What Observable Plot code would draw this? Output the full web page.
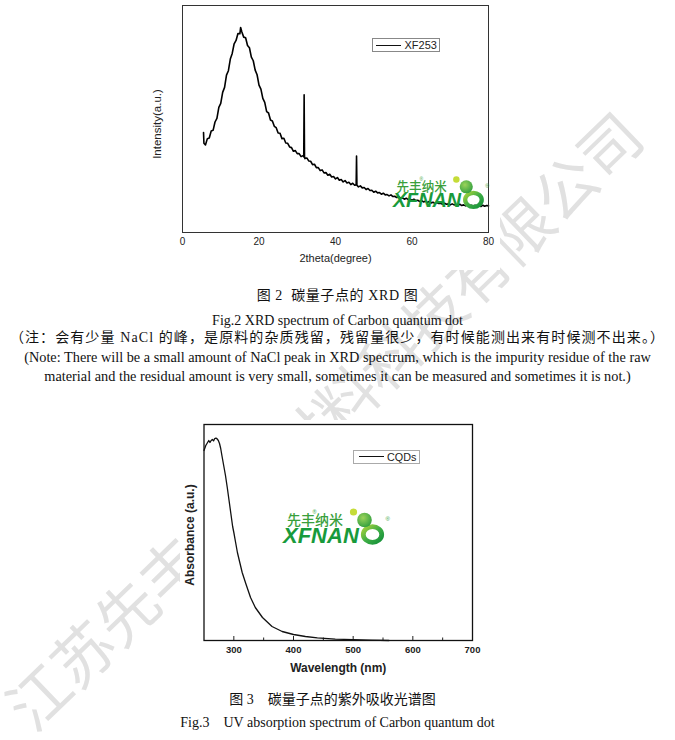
<!DOCTYPE html>
<html>
<head>
<meta charset="utf-8">
<script src="https://cdn.jsdelivr.net/npm/d3@7"></script>
<script src="https://cdn.jsdelivr.net/npm/@observablehq/plot@0.6"></script>
<style>
  body { margin: 0; background: #fff; }
  #page { position: relative; width: 675px; height: 740px; overflow: hidden; background: #fff; }
  .abs { position: absolute; }
  .cap { position: absolute; left: 0; width: 675px; text-align: center; font-family: "Liberation Serif", "Times New Roman", "Noto Sans CJK SC", serif; font-size: 14px; line-height: 20px; color: #111; white-space: pre; z-index: 3; }
  .wm { position: absolute; white-space: nowrap; font-family: "Noto Sans CJK SC", sans-serif; color: #e1e1e1; transform-origin: 50% 50%; z-index: 0; }
  .legend { position: absolute; background: #fff; box-sizing: border-box; font-family: "Liberation Sans", Arial, sans-serif; z-index: 4; }
  .legend .sw { position: absolute; }
  .legend .lt { position: absolute; white-space: nowrap; }
  .logo { position: absolute; z-index: 5; }
</style>
</head>
<body>
<div id="page"></div>
<script>
// ---------------- data ----------------
const xrdTicks = [0, 20, 40, 60, 80];
const xrdTheta = [
  5.5, 5.6, 6.0, 6.5, 7.0, 7.5, 8.0, 8.5, 9.0, 9.5, 10.0, 10.5, 11.0, 11.5, 12.0, 12.5, 13.0, 13.5, 14.0, 14.5,
  15.0, 15.2, 15.5, 16.0, 16.5, 17.0, 17.5, 18.0, 18.5, 19.0, 19.5, 20.0, 20.5, 21.0, 21.5, 22.0, 22.5, 23.0, 23.5, 24.0,
  24.5, 25.0, 25.5, 26.0, 26.5, 27.0, 27.5, 28.0, 28.5, 29.0, 29.5, 30.0, 30.5, 31.0, 31.5, 31.7, 31.8, 31.9, 32.0, 32.5,
  33.0, 33.5, 34.0, 34.5, 35.0, 35.5, 36.0, 36.5, 37.0, 37.5, 38.0, 38.5, 39.0, 39.5, 40.0, 40.5, 41.0, 41.5, 42.0, 42.5,
  43.0, 43.5, 44.0, 44.5, 45.0, 45.4, 45.5, 45.6, 46.0, 46.5, 47.0, 47.5, 48.0, 48.5, 49.0, 49.5, 50.0, 50.5, 51.0, 51.5,
  52.0, 52.5, 53.0, 53.5, 54.0, 54.5, 55.0, 55.5, 56.0, 56.5, 57.0, 57.5, 58.0, 58.5, 59.0, 59.5, 60.0, 60.5, 61.0, 61.5,
  62.0, 62.5, 63.0, 63.5, 64.0, 64.5, 65.0, 65.5, 66.0, 66.5, 67.0, 67.5, 68.0, 68.5, 69.0, 69.5, 70.0, 70.5, 71.0, 71.5,
  72.0, 72.5, 73.0, 73.5, 74.0, 74.5, 75.0, 75.5, 76.0, 76.5, 77.0, 77.5, 78.0, 78.5, 79.0, 79.5, 80.0
];
const xrdIntensity = [
  300, 268, 263, 282, 284, 305, 307, 332, 343, 376, 388, 421, 436, 473, 486, 521, 538, 567, 577, 598,
  597, 616, 603, 587, 585, 562, 555, 527, 516, 488, 474, 443, 431, 403, 391, 363, 359, 338, 335, 319,
  315, 299, 298, 282, 283, 269, 268, 257, 255, 244, 246, 237, 237, 228, 231, 227, 414, 228, 222, 224,
  215, 214, 204, 205, 195, 195, 186, 188, 179, 180, 172, 175, 167, 168, 161, 165, 157, 159, 152, 156,
  149, 151, 144, 148, 142, 143, 230, 142, 137, 140, 134, 135, 129, 132, 126, 127, 121, 124, 119, 120,
  115, 118, 113, 114, 110, 113, 108, 109, 105, 108, 103, 104, 100, 103, 99, 100, 97, 100, 96, 97,
  93, 96, 92, 94, 90, 93, 89, 91, 87, 90, 87, 88, 85, 88, 85, 86, 83, 86, 83, 84,
  81, 85, 81, 83, 80, 83, 80, 82, 79, 82, 79, 81, 78, 82, 79, 81, 80
];
const xrdSeries = "XF253";

const uvTicks = [300, 400, 500, 600, 700];
const uvMinorTicks = [350, 450, 550, 650];
const uvWavelength = [250, 253, 256, 258, 260, 262, 264, 266, 268, 270, 272, 274, 276, 278, 280, 283, 286, 289, 292, 295,
  298, 300, 303, 306, 310, 314, 320, 328, 336, 348, 364, 381, 400, 420, 440, 470, 500, 530, 560];
const uvAbsorbance = [0.95, 0.975, 0.99, 1.0, 0.99, 1.0, 1.005, 0.998, 1.01, 1.012, 1.008, 1.0, 0.985, 0.96, 0.925, 0.875, 0.825, 0.765, 0.70, 0.635,
  0.57, 0.54, 0.49, 0.44, 0.39, 0.34, 0.285, 0.215, 0.165, 0.115, 0.07, 0.045, 0.03, 0.02, 0.013, 0.007, 0.004, 0.002, 0.0];
const uvSeries = "CQDs";

const captions = {
  fig2cn: "图 2  碳量子点的 XRD 图",
  fig2en: "Fig.2 XRD spectrum of Carbon quantum dot",
  notecn: "（注：会有少量 NaCl 的峰，是原料的杂质残留，残留量很少，有时候能测出来有时候测不出来。）",
  noteen1: "(Note: There will be a small amount of NaCl peak in XRD spectrum, which is the impurity residue of the raw",
  noteen2: "material and the residual amount is very small, sometimes it can be measured and sometimes it is not.)",
  fig3cn: "图 3　碳量子点的紫外吸收光谱图",
  fig3en: "Fig.3    UV absorption spectrum of Carbon quantum dot"
};
const watermarkText = "江苏先丰纳米材料科技有限公司";
const logoCn = "先丰纳米";
const logoEn = "XFNAN";

// ---------------- page ----------------
const page = document.getElementById("page");

// watermark
const wm = document.createElement("div");
wm.className = "wm";
const wmSize = 61;
wm.style.fontSize = wmSize + "px";
wm.style.lineHeight = wmSize + "px";
wm.style.width = (wmSize * 14) + "px";
wm.style.left = (322 - wmSize * 7) + "px";
wm.style.top = (418 - wmSize / 2) + "px";
wm.style.transform = "rotate(-44deg)";
wm.textContent = watermarkText;
page.appendChild(wm);

// XRD chart
const xrdData = xrdTheta.map((t, i) => ({theta: t, intensity: xrdIntensity[i]}));
const xrd = Plot.plot({
  width: 370, height: 270,
  marginLeft: 52, marginRight: 12, marginTop: 5, marginBottom: 38,
  style: {fontFamily: "'Liberation Sans', Arial, sans-serif", fontSize: "10px", background: "white", color: "#222", overflow: "visible"},
  x: {domain: [0, 80], ticks: xrdTicks, tickSize: 0, tickPadding: 5.5, label: null, tickFormat: d => String(d)},
  y: {domain: [0, 682], axis: null},
  marks: [
    Plot.line(xrdData, {x: "theta", y: "intensity", stroke: "#000", strokeWidth: 1.6}),
    Plot.frame({stroke: "#333", strokeWidth: 1}),
    Plot.text(["2theta(degree)"], {text: d => d, frameAnchor: "bottom", lineAnchor: "middle", textAnchor: "middle", dy: 26, fontSize: 11, fill: "#222"}),
    Plot.text(["Intensity(a.u.)"], {text: d => d, frameAnchor: "left", lineAnchor: "middle", textAnchor: "middle", rotate: -90, dx: -25, dy: 5, fontSize: 11.5, fill: "#222"})
  ]
});
const xrdBox = document.createElement("div");
xrdBox.className = "abs";
xrdBox.style.cssText = "left:130px;top:0px;width:370px;height:270px;z-index:1;";
xrdBox.appendChild(xrd);
page.appendChild(xrdBox);

// UV chart
const uvData = uvWavelength.map((w, i) => ({wl: w, abs: uvAbsorbance[i]}));
const uv = Plot.plot({
  width: 305, height: 265,
  marginLeft: 23.5, marginRight: 13, marginTop: 4, marginBottom: 45,
  style: {fontFamily: "'Liberation Sans', Arial, sans-serif", fontSize: "9.5px", fontWeight: "bold", background: "white", color: "#222", overflow: "visible"},
  x: {domain: [250, 700], ticks: uvTicks, tickSize: 0, tickPadding: 6, label: null, tickFormat: d => String(d)},
  y: {domain: [0, 1.08], axis: null},
  marks: [
    Plot.tickX(uvTicks, {insetTop: 212, stroke: "#222", strokeWidth: 1}),
    Plot.tickX(uvMinorTicks, {insetTop: 213.5, stroke: "#222", strokeWidth: 1}),
    Plot.line(uvData, {x: "wl", y: "abs", stroke: "#111", strokeWidth: 1.3}),
    Plot.frame({stroke: "#111", strokeWidth: 1.3}),
    Plot.text(["Wavelength (nm)"], {text: d => d, frameAnchor: "bottom", lineAnchor: "middle", textAnchor: "middle", dy: 28, fontSize: 12, fontWeight: "bold", fill: "#222"}),
    Plot.text(["Absorbance (a.u.)"], {text: d => d, frameAnchor: "left", lineAnchor: "middle", textAnchor: "middle", rotate: -90, dx: -13.5, dy: 2.5, fontSize: 12, fontWeight: "bold", fill: "#222"})
  ]
});
const uvBox = document.createElement("div");
uvBox.className = "abs";
uvBox.style.cssText = "left:180px;top:420px;width:305px;height:265px;z-index:1;";
uvBox.appendChild(uv);
page.appendChild(uvBox);

// legends
function legend(left, top, w, h, border, lineX, lineW, lineStroke, textX, label, fontSize) {
  const d = document.createElement("div");
  d.className = "legend";
  d.style.cssText += `left:${left}px;top:${top}px;width:${w}px;height:${h}px;border:${border};`;
  const sw = document.createElement("div");
  sw.className = "sw";
  sw.style.cssText = `left:${lineX}px;top:${(h - 2) / 2 - lineStroke / 2}px;width:${lineW}px;height:0;border-top:${lineStroke}px solid #111;`;
  const t = document.createElement("div");
  t.className = "lt";
  t.style.cssText = `left:${textX}px;top:0;line-height:${h - 2}px;font-size:${fontSize}px;color:#222;`;
  t.textContent = label;
  d.appendChild(sw); d.appendChild(t);
  page.appendChild(d);
}
legend(372, 38, 68, 14, "1px solid #888", 3, 25, 1, 31.5, xrdSeries, 11);
legend(353, 450, 67, 14, "1.3px solid #aaa", 4.5, 25, 1.4, 33, uvSeries, 10.8);

// logos
function logo(left, top, s, id) {
  const d = document.createElement("div");
  d.className = "logo";
  d.style.cssText += `left:${left}px;top:${top}px;`;
  d.innerHTML = `<svg width="${112 * s}" height="${42 * s}" viewBox="-5 0 112 42" overflow="visible">
    <defs>
      <linearGradient id="ring${id}" x1="0" y1="0" x2="1" y2="1">
        <stop offset="0" stop-color="#a8d23a"/><stop offset="0.5" stop-color="#3fae45"/><stop offset="1" stop-color="#15913a"/>
      </linearGradient>
      <radialGradient id="dot${id}" cx="0.4" cy="0.35" r="0.7">
        <stop offset="0" stop-color="#9bd35a"/><stop offset="1" stop-color="#2f9e3e"/>
      </radialGradient>
    </defs>
    <text x="0" y="17" font-size="14" fill="#3a9f3c" font-family="'Noto Sans CJK SC', sans-serif" font-weight="500">${logoCn}</text>
    <text x="25.5" y="6" font-size="5.5" fill="#3a9f3c" font-family="'Liberation Sans', Arial">®</text>
    <text x="-4" y="35" font-size="22" font-weight="bold" font-style="italic" font-family="'Liberation Sans', Arial" fill="#189a3b">${logoEn}</text>
    <ellipse cx="85.5" cy="26.5" rx="9.2" ry="7.8" fill="none" stroke="url(#ring${id})" stroke-width="4.8"/>
    <circle cx="66.5" cy="4" r="3.6" fill="#c5dc38"/>
    <circle cx="77.5" cy="12" r="7.3" fill="url(#dot${id})"/>
    <text x="98.5" y="13" font-size="6" fill="#3a9f3c" font-family="'Liberation Sans', Arial">®</text>
  </svg>`;
  page.appendChild(d);
}
logo(392, 176, 0.9, "a");
logo(282, 508, 1.0, "b");

// captions
function cap(text, cy, extra) {
  const d = document.createElement("div");
  d.className = "cap";
  d.style.top = (cy - 10) + "px";
  if (extra) d.style.cssText += extra;
  d.textContent = text;
  page.appendChild(d);
}
cap(captions.fig2cn, 296, "letter-spacing:0.6px;");
cap(captions.fig2en, 320.5);
cap(captions.notecn, 338, "letter-spacing:1.1px;");
cap(captions.noteen1, 357, "font-size:14.3px;");
cap(captions.noteen2, 376, "font-size:14.3px;");
cap(captions.fig3cn, 700, "text-indent:-10px;");
cap(captions.fig3en, 722.5);
</script>
</body>
</html>
